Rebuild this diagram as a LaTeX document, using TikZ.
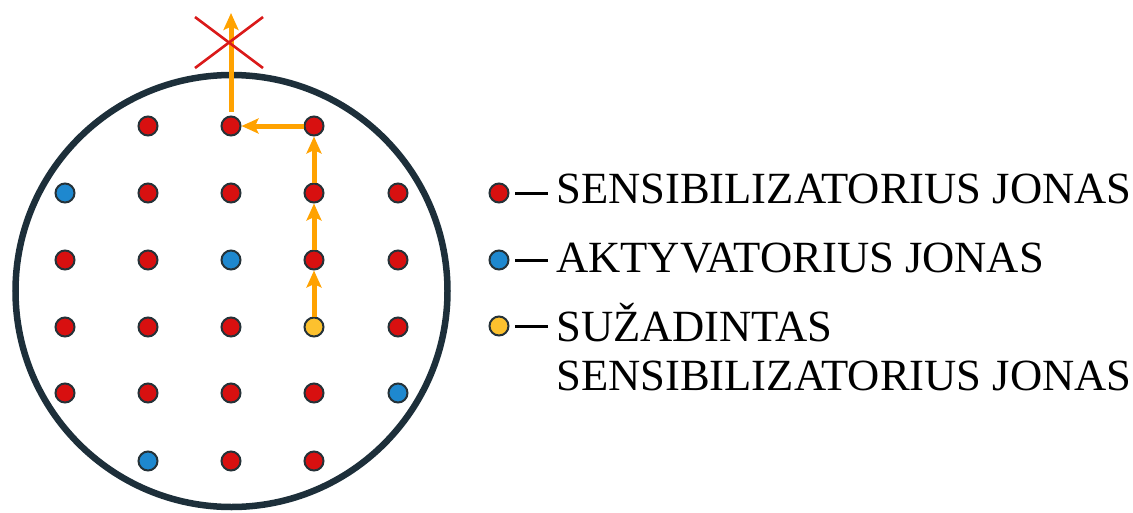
\documentclass[tikz,border=0pt]{standalone}
\usepackage{fontspec}
\setmainfont{Liberation Serif}
\usetikzlibrary{arrows.meta}
\definecolor{ring}{HTML}{1D2F3A}
\definecolor{dotline}{HTML}{253238}
\definecolor{sred}{HTML}{D81010}
\definecolor{ablue}{HTML}{1E88CF}
\definecolor{eyel}{HTML}{FCC12E}
\definecolor{arr}{HTML}{FFA200}
\definecolor{xred}{HTML}{DA1A1A}
\begin{document}
\begin{tikzpicture}[x=1pt,y=-1pt,
  ion/.style={circle,draw=dotline,line width=2pt,minimum size=19pt,inner sep=0pt,outer sep=1pt},
  sens/.style={ion,fill=sred},
  akt/.style={ion,fill=ablue},
  exc/.style={ion,fill=eyel},
  hop/.style={draw=arr,line width=5pt,-{Stealth[length=17pt,width=15pt,inset=3.5pt]}},
  dashline/.style={line width=3pt,black},
  lbl/.style={anchor=base west,inner sep=0pt,font=\fontsize{44.6}{48}\selectfont}
]
\useasboundingbox (0,0) rectangle (1133,512);
\node[circle,draw=ring,line width=6.5pt,minimum size=432pt,inner sep=0pt] (ring) at (231.5,291) {};
% row 1
\node[sens] (a12) at (148,126) {};
\node[sens] (a13) at (231,126) {};
\node[sens] (a14) at (314,126) {};
% row 2
\node[akt]  (a21) at (65,193) {};
\node[sens] (a22) at (148,193) {};
\node[sens] (a23) at (231,193) {};
\node[sens] (a24) at (314,193) {};
\node[sens] (a25) at (398,193) {};
% row 3
\node[sens] (a31) at (65,260) {};
\node[sens] (a32) at (148,260) {};
\node[akt]  (a33) at (231,260) {};
\node[sens] (a34) at (314,260) {};
\node[sens] (a35) at (398,260) {};
% row 4
\node[sens] (a41) at (65,327) {};
\node[sens] (a42) at (148,327) {};
\node[sens] (a43) at (231,327) {};
\node[exc]  (a44) at (314,327) {};
\node[sens] (a45) at (398,327) {};
% row 5
\node[sens] (a51) at (65,393) {};
\node[sens] (a52) at (148,393) {};
\node[sens] (a53) at (231,393) {};
\node[sens] (a54) at (314,393) {};
\node[akt]  (a55) at (398,393) {};
% row 6
\node[akt]  (a62) at (148,461) {};
\node[sens] (a63) at (231,461) {};
\node[sens] (a64) at (314,461) {};
% energy path
\coordinate (out) at (231,13);
\draw[hop] (a44) -- (a34);
\draw[hop] (a34) -- (a24);
\draw[hop] (a24) -- (a14);
\draw[hop] (a14) -- (a13);
\draw[hop,shorten <=4pt] (a13) -- (out);
% cross
\coordinate (xc) at (229,42.5);
\draw[xred,line width=2.6pt] ([shift={(-34,-25.5)}]xc) -- ([shift={(34,25.5)}]xc);
\draw[xred,line width=2.6pt] ([shift={(34,-25.5)}]xc) -- ([shift={(-34,25.5)}]xc);
% legend
\node[sens] (l1) at (499,193) {};
\node[akt]  (l2) at (499,260) {};
\node[exc]  (l3) at (499,326) {};
\coordinate (d1a) at (515,193); \coordinate (d1b) at (548,193);
\coordinate (d2a) at (515,260); \coordinate (d2b) at (548,260);
\coordinate (d3a) at (515,326); \coordinate (d3b) at (548,326);
\draw[dashline] (d1a) -- (d1b);
\draw[dashline] (d2a) -- (d2b);
\draw[dashline] (d3a) -- (d3b);
\node[lbl] (t1) at (556,203) {SENSIBILIZATORIUS JONAS};
\node[lbl] (t2) at (556,272) {AKTYVATORIUS JONAS};
\node[lbl] (t3) at (556,341) {SUŽADINTAS};
\node[lbl] (t4) at (556,390) {SENSIBILIZATORIUS JONAS};
\end{tikzpicture}
\end{document}
